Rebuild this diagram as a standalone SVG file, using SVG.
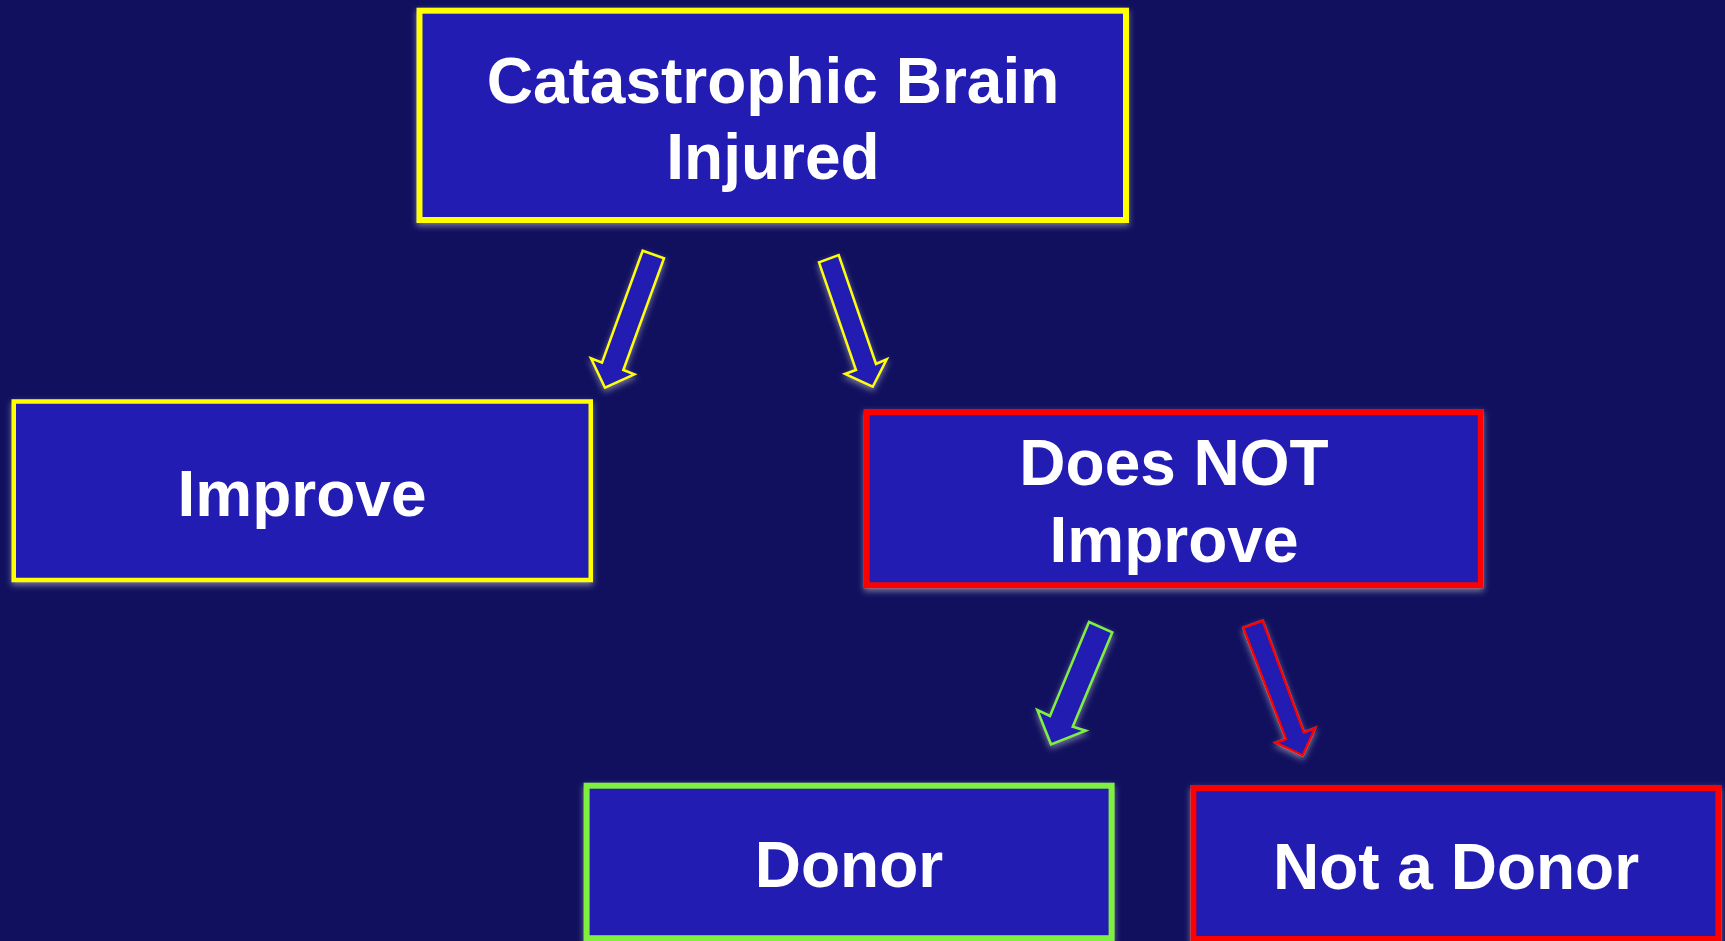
<svg xmlns="http://www.w3.org/2000/svg" width="1725" height="941" viewBox="0 0 1725 941">
<defs>
<filter id="glow" x="-10%" y="-10%" width="120%" height="130%">
<feGaussianBlur in="SourceAlpha" stdDeviation="3" result="b"/>
<feOffset dx="0" dy="3" result="o"/>
<feFlood flood-color="#c8c8c8" flood-opacity="0.55"/>
<feComposite in2="o" operator="in" result="s"/>
<feMerge><feMergeNode in="s"/><feMergeNode in="SourceGraphic"/></feMerge>
</filter>
</defs>
<style>
.box{fill:#201cb2;}
.lbl{font-family:"Liberation Sans",Arial,sans-serif;font-weight:bold;font-size:64px;fill:#ffffff;text-anchor:middle;}
.arr{fill:#201cb2;stroke-width:2.5;stroke-linejoin:miter;}
</style>
<rect x="0" y="0" width="1725" height="941" fill="#10105f"/>
<g id="connectors" filter="url(#glow)">
<polygon class="arr" stroke="#ffff00" points="642.7,250.7 664,258.3 623.3,370 634.3,374.3 605,387.7 591,358.3 602,362.7"/>
<polygon class="arr" stroke="#ffff00" points="819,262.3 838.7,255 876,364 886.7,359.3 872.7,386.7 845,374 856,370"/>
<polygon class="arr" stroke="#80f040" points="1089,622 1112.3,632.3 1072.7,726.7 1085.7,730.7 1051,744.3 1037.3,710 1050,716"/>
<polygon class="arr" stroke="#ff0000" points="1243.3,627.7 1262.7,620.7 1304,732.7 1315.3,728 1302.7,755.3 1275.7,742.7 1286,739"/>
</g>
<g id="node-catastrophic" filter="url(#glow)">
<rect class="box" x="419.5" y="10.7" width="706.5" height="209.3" stroke="#ffff00" stroke-width="6"/>
<text class="lbl" x="773" y="103">Catastrophic Brain</text>
<text class="lbl" x="773" y="179">Injured</text>
</g>
<g id="node-improve" filter="url(#glow)">
<rect class="box" x="13.75" y="401.5" width="577" height="178.5" stroke="#ffff00" stroke-width="4.5"/>
<text class="lbl" x="302" y="516">Improve</text>
</g>
<g id="node-not-improve" filter="url(#glow)">
<rect class="box" x="866.8" y="412" width="614" height="173.3" stroke="#ff0000" stroke-width="6"/>
<text class="lbl" x="1174" y="485">Does NOT</text>
<text class="lbl" x="1174" y="562">Improve</text>
</g>
<g id="node-donor" filter="url(#glow)">
<rect class="box" x="586.6" y="785.7" width="525" height="152.5" stroke="#80f040" stroke-width="6"/>
<text class="lbl" x="849" y="887">Donor</text>
</g>
<g id="node-not-donor" filter="url(#glow)">
<rect class="box" x="1193.4" y="788" width="525" height="151" stroke="#ff0000" stroke-width="6"/>
<text class="lbl" x="1456" y="889">Not a Donor</text>
</g>
</svg>
